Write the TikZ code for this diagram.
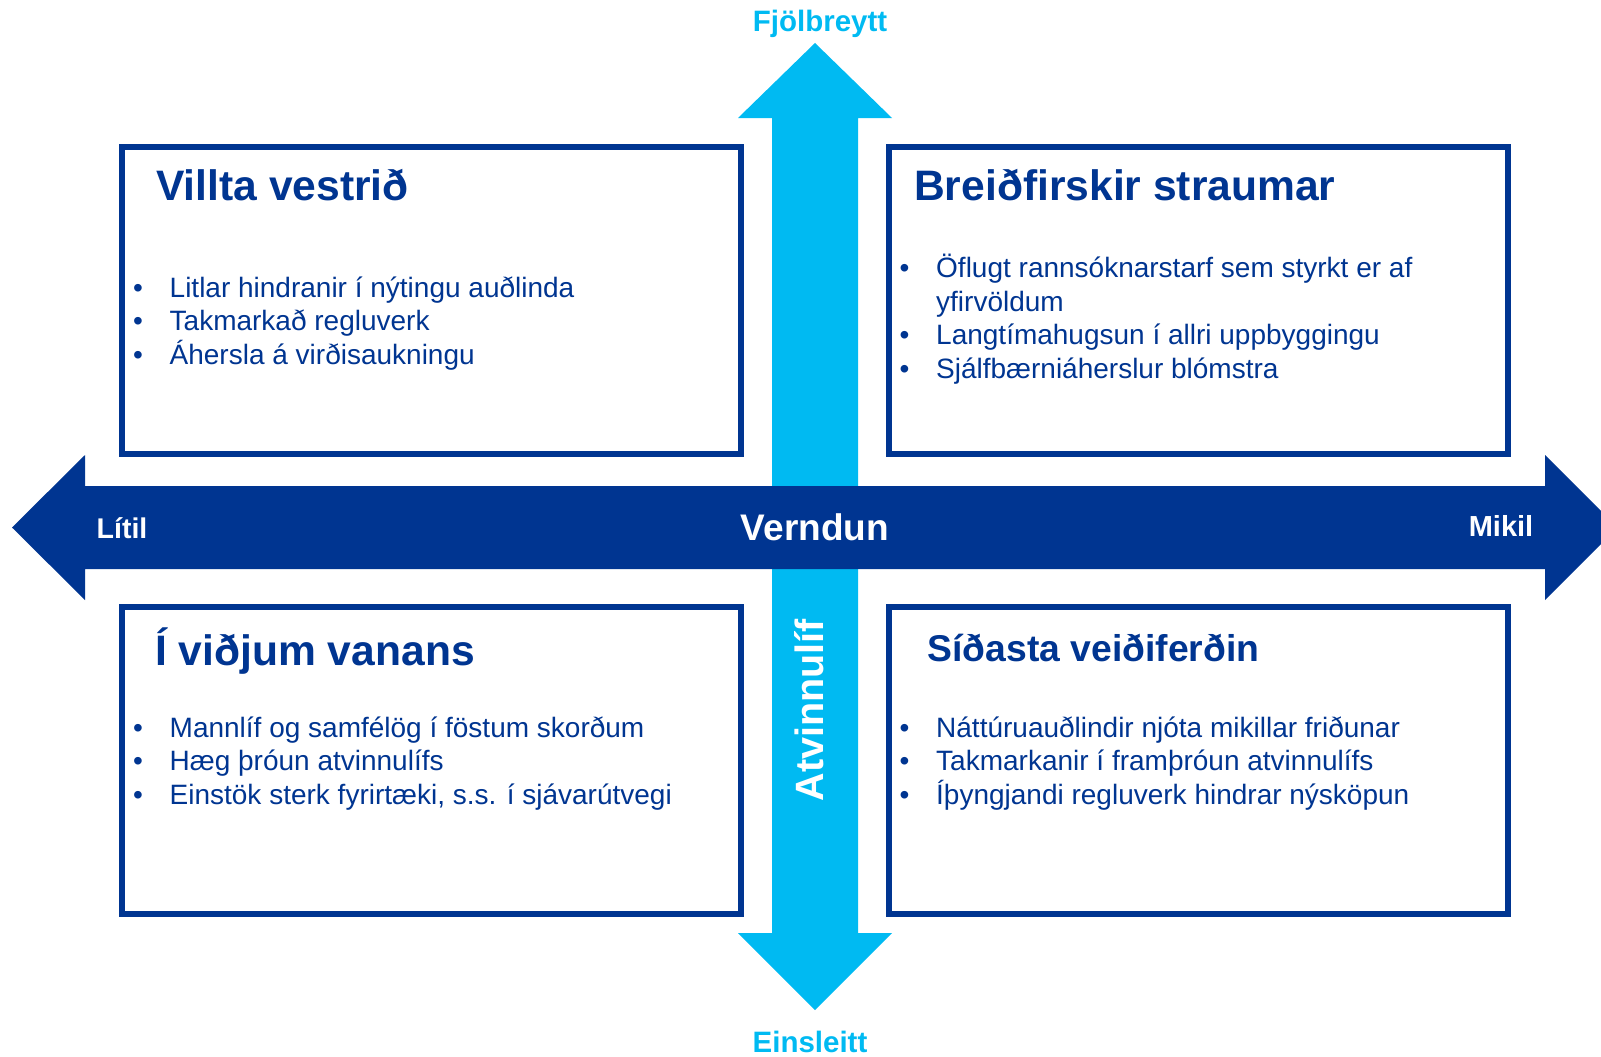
\documentclass[tikz,border=0pt]{standalone}
\usepackage{fontspec}
\setmainfont{Liberation Sans}
\usepackage{tikz}
\usetikzlibrary{positioning}
\definecolor{verndblue}{RGB}{0,53,145}
\definecolor{atvblue}{RGB}{0,186,242}
\newcommand{\qitem}[1]{\makebox[36.5pt][l]{\textbullet}#1}
\newcommand{\qcont}[1]{\hspace*{36.5pt}#1}

\begin{document}
\begin{tikzpicture}[x=1pt, y=-1pt,
  quad/.style={draw=verndblue, line width=5.5pt, fill=white, inner sep=0pt, outer sep=0pt,
               minimum width=619pt, minimum height=307pt},
  qtitle/.style={inner sep=0pt, text=verndblue, font=\fontsize{42.6}{50}\selectfont\bfseries},
  qlist/.style={inner sep=0pt, text=verndblue, font=\fontsize{28}{33.6}\selectfont},
  axislabel/.style={anchor=base, inner sep=0pt, font=\bfseries}]

\clip (0,0) rectangle (1601,1057);

% Atvinnulif axis
\fill[atvblue] (815,43) -- (892,118) -- (858,118) -- (858,933) -- (892,933)
  -- (815,1010) -- (738,933) -- (772,933) -- (772,118) -- (738,118) -- cycle;

% Verndun axis
\fill[verndblue] (12,527.5) -- (85,455) -- (85,486) -- (1545,486) -- (1545,455)
  -- (1617.5,527.5) -- (1545,600) -- (1545,569) -- (85,569) -- (85,600) -- cycle;

% Quadrants
\node[quad] (west) at (431.5,300.5) {};
\node[quad, right=148pt of west] (breid) {};
\node[quad, below=153pt of west] (vanans) {};
\node[quad, below=153pt of breid] (veidi) {};

% Titles
\node[qtitle, below right=53pt and 34pt of west.north west, anchor=base west] (westT) {Villta vestrið};
\node[qtitle, below right=53pt and 25pt of breid.north west, anchor=base west] (breidT) {Breiðfirskir straumar};
\node[qtitle, below right=58.5pt and 33pt of vanans.north west, anchor=base west] (vanansT) {Í viðjum vanans};
\node[qtitle, font=\fontsize{37.3}{44}\selectfont\bfseries,
      below right=54pt and 38.5pt of veidi.north west, anchor=base west] (veidiT) {Síðasta veiðiferðin};

% Bullet lists
\node[qlist, below right=150pt and 11pt of west.north west, anchor=base west] (westL) {%
  \begin{tabular}[t]{@{}l@{}}
  \qitem{Litlar hindranir í nýtingu auðlinda}\\
  \qitem{Takmarkað regluverk}\\
  \qitem{Áhersla á virðisaukningu}
  \end{tabular}};
\node[qlist, below right=130.5pt and 10.5pt of breid.north west, anchor=base west] (breidL) {%
  \begin{tabular}[t]{@{}l@{}}
  \qitem{Öflugt rannsóknarstarf sem styrkt er af}\\
  \qcont{yfirvöldum}\\
  \qitem{Langtímahugsun í allri uppbyggingu}\\
  \qitem{Sjálfbærniáherslur blómstra}
  \end{tabular}};
\node[qlist, below right=130pt and 11pt of vanans.north west, anchor=base west] (vanansL) {%
  \begin{tabular}[t]{@{}l@{}}
  \qitem{Mannlíf og samfélög í föstum skorðum}\\
  \qitem{Hæg þróun atvinnulífs}\\
  \qitem{Einstök sterk fyrirtæki, s.s. í sjávarútvegi}
  \end{tabular}};
\node[qlist, below right=130pt and 10.5pt of veidi.north west, anchor=base west] (veidiL) {%
  \begin{tabular}[t]{@{}l@{}}
  \qitem{Náttúruauðlindir njóta mikillar friðunar}\\
  \qitem{Takmarkanir í framþróun atvinnulífs}\\
  \qitem{Íþyngjandi regluverk hindrar nýsköpun}
  \end{tabular}};

% Axis labels
\node[axislabel, text=white, font=\fontsize{37}{44}\selectfont\bfseries] (verndun) at (815,540) {Verndun};
\node[axislabel, text=white, font=\fontsize{28.5}{34}\selectfont\bfseries] (litil) at (122,538) {Lítil};
\node[axislabel, text=white, font=\fontsize{29}{35}\selectfont\bfseries] (mikil) at (1501,536) {Mikil};
\node[axislabel, text=white, rotate=90, font=\fontsize{39.5}{47}\selectfont\bfseries] (atvinnulif) at (823,710) {Atvinnulíf};
\node[axislabel, text=atvblue, font=\fontsize{29.5}{35}\selectfont\bfseries] (fjolbreytt) at (820,32) {Fjölbreytt};
\node[axislabel, text=atvblue, font=\fontsize{29.5}{35}\selectfont\bfseries] (einsleitt) at (810,1052) {Einsleitt};

\end{tikzpicture}
\end{document}
